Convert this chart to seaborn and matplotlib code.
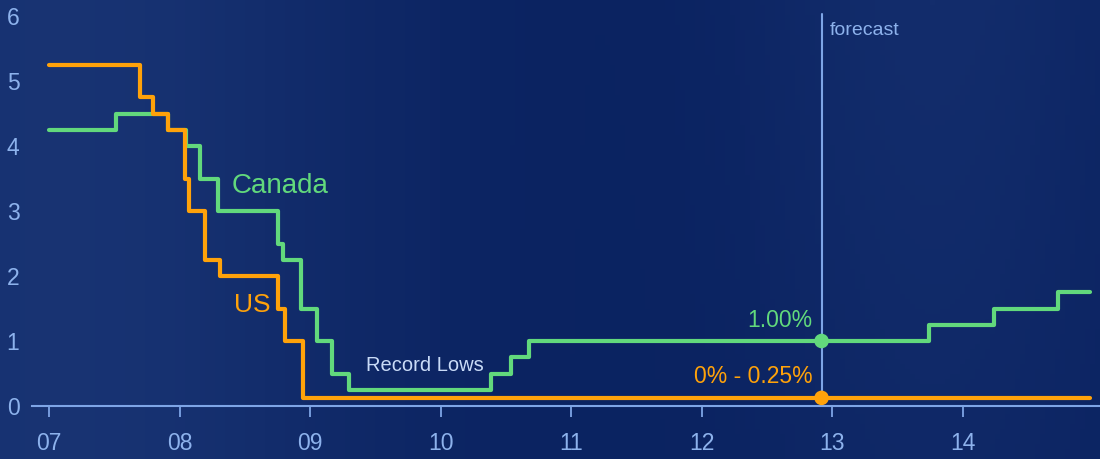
import numpy as np
import pandas as pd
import seaborn as sns
import matplotlib.pyplot as plt

# Policy rates, step dates as decimal years
us_dates = [2007.00, 2007.70, 2007.80, 2007.91, 2008.04, 2008.07, 2008.195,
            2008.31, 2008.757, 2008.81, 2008.945, 2014.98]
us_rates = [5.25, 4.75, 4.50, 4.25, 3.50, 3.00, 2.25,
            2.00, 1.50, 1.00, 0.125, 0.125]

ca_dates = [2007.00, 2007.51, 2007.91, 2008.05, 2008.16, 2008.295, 2008.755,
            2008.79, 2008.93, 2009.05, 2009.17, 2009.30, 2010.39, 2010.54,
            2010.68, 2013.74, 2014.24, 2014.735, 2014.98]
ca_rates = [4.25, 4.50, 4.25, 4.00, 3.50, 3.00, 2.50,
            2.25, 1.50, 1.00, 0.50, 0.25, 0.50, 0.75,
            1.00, 1.25, 1.50, 1.75, 1.75]

forecast_x = 2012.92
year_ticks = [2007, 2008, 2009, 2010, 2011, 2012, 2013, 2014]
year_labels = ["07", "08", "09", "10", "11", "12", "13", "14"]

df = pd.concat([
    pd.DataFrame({"date": us_dates, "rate": us_rates, "country": "US"}),
    pd.DataFrame({"date": ca_dates, "rate": ca_rates, "country": "Canada"}),
])

sns.set_style("dark")
plt.rcParams["font.family"] = ["Liberation Sans", "DejaVu Sans"]

BG = "#0d2766"
GREEN = "#62d97c"
ORANGE = "#ffa20a"
AXIS = "#7ea5e6"
TICKTXT = "#8db2ec"

fig = plt.figure(figsize=(11, 4.59), dpi=100)
fig.patch.set_facecolor(BG)

# soft background shading
bg = fig.add_axes([0, 0, 1, 1])
gx = np.linspace(0, 1, 220)
gy = np.linspace(0, 1, 92)
X, Y = np.meshgrid(gx, gy)
shade = 0.55 * np.exp(-((X - 0.05) ** 2) / 0.08) + 0.35 * np.exp(-((X - 0.85) ** 2) / 0.03) * (1 - Y * 0.4)
bg.imshow(shade, cmap=sns.blend_palette(["#0a2260", "#1c3878"], as_cmap=True),
          aspect="auto", extent=[0, 1, 0, 1], vmin=0, vmax=0.7)
bg.set_axis_off()

ax = fig.add_axes([32 / 1100, 53 / 459, 1068 / 1100, 394 / 459])
ax.set_facecolor("none")

sns.lineplot(data=df, x="date", y="rate", hue="country",
             palette={"US": ORANGE, "Canada": GREEN},
             hue_order=["Canada", "US"], drawstyle="steps-post",
             linewidth=3, legend=False, ax=ax, estimator=None, sort=False)

ax.axvline(forecast_x, ymax=0.995, color=AXIS, lw=1.5, zorder=1)
sns.scatterplot(x=[forecast_x, forecast_x], y=[1.00, 0.125],
                hue=["Canada", "US"], palette={"US": ORANGE, "Canada": GREEN},
                s=110, edgecolor="none", legend=False, ax=ax, zorder=5)

ax.set_xlim(2007 - 17 / 130.5, 2007 + 1068 / 130.5 - 17 / 130.5)
ax.set_ylim(0, 394 / 65)
ax.set_xticks(year_ticks)
ax.set_xticklabels(year_labels)
ax.set_yticks(range(0, 7))
ax.set_xlabel("")
ax.set_ylabel("")
ax.grid(False)

for s in ["top", "right", "left"]:
    ax.spines[s].set_visible(False)
ax.spines["bottom"].set_color(AXIS)
ax.spines["bottom"].set_linewidth(1.5)
ax.tick_params(axis="x", colors=TICKTXT, length=8, width=1.3, color=AXIS,
               direction="out", labelsize=16.5, pad=11, bottom=True)
ax.tick_params(axis="y", colors=TICKTXT, length=0, labelsize=16.5, pad=9)

ax.text(2008.4, 3.38, "Canada", color=GREEN, fontsize=20, va="center", ha="left")
ax.text(2008.42, 1.55, "US", color=ORANGE, fontsize=19, va="center", ha="left")
ax.text(2009.43, 0.63, "Record Lows", color="#c9dbf7", fontsize=14.5, va="center", ha="left")
ax.text(2012.85, 1.32, "1.00%", color=GREEN, fontsize=16.5, va="center", ha="right")
ax.text(2012.85, 0.46, "0% - 0.25%", color=ORANGE, fontsize=16.5, va="center", ha="right")
ax.text(forecast_x + 0.06, 5.78, "forecast", color=TICKTXT, fontsize=14, va="center", ha="left")

fig.savefig("out.png", dpi=100, facecolor=fig.get_facecolor())
